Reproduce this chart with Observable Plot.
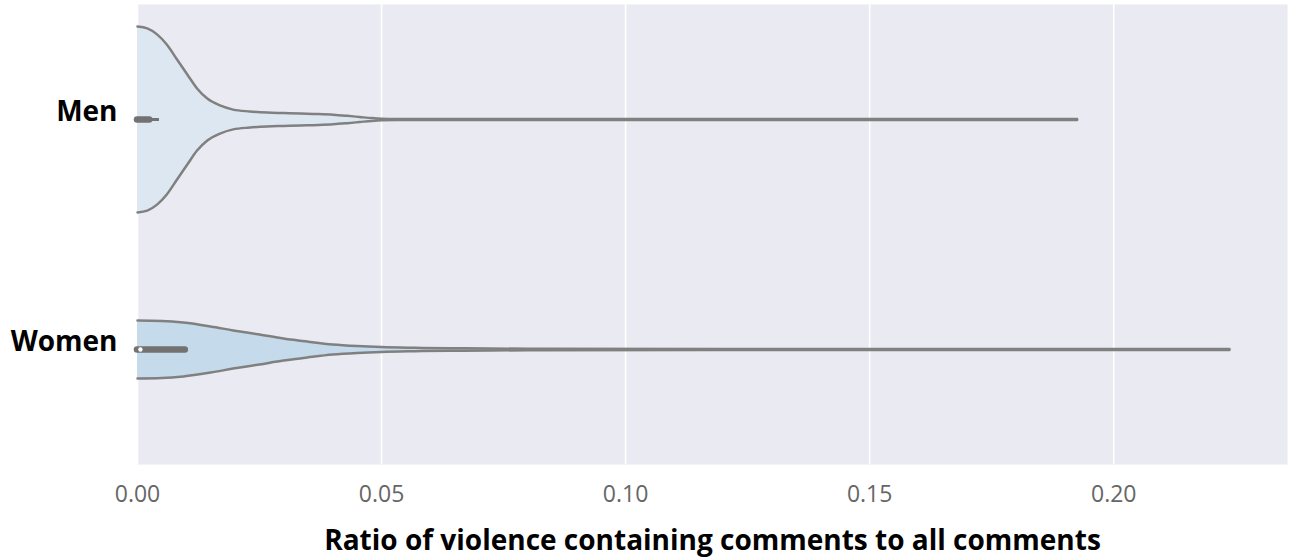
<!DOCTYPE html>
<html>
<head>
<meta charset="utf-8">
<script src="https://cdn.jsdelivr.net/npm/d3@7"></script>
<script src="https://cdn.jsdelivr.net/npm/@observablehq/plot@0.6"></script>
<style>
  html, body { margin: 0; padding: 0; background: #ffffff; }
  #chart { width: 1290px; height: 560px; }
</style>
</head>
<body>
<div id="chart"></div>
<script>
// ---- Data ----
const groups = ["Men", "Women"];
const xTicks = [0, 0.05, 0.10, 0.15, 0.20];
const xLabel = "Ratio of violence containing comments to all comments";

// Violin half-widths (in category units) along the value axis
const menX  = [0, 0.002, 0.004, 0.006, 0.0081, 0.0102, 0.0122, 0.0143, 0.0169, 0.0196, 0.023, 0.0266, 0.030, 0.0334, 0.037, 0.0401, 0.043, 0.0455, 0.048, 0.050, 0.053, 0.10, 0.15, 0.1925];
const menHW = [0.404, 0.396, 0.37, 0.326, 0.261, 0.196, 0.135, 0.091, 0.061, 0.043, 0.035, 0.030, 0.028, 0.026, 0.024, 0.021, 0.016, 0.011, 0.006, 0.0035, 0.0026, 0.0024, 0.0022, 0.002];

const womenX  = [0, 0.005, 0.0094, 0.015, 0.0196, 0.025, 0.0299, 0.035, 0.040, 0.045, 0.050, 0.057, 0.064, 0.072, 0.080, 0.12, 0.17, 0.2237];
const womenHW = [0.126, 0.124, 0.117, 0.100, 0.083, 0.065, 0.048, 0.034, 0.022, 0.015, 0.0105, 0.0075, 0.0055, 0.0042, 0.0034, 0.0027, 0.0023, 0.002];

// Inner box summaries
const iqrLow   = [0, 0];
const iqrHigh  = [0.0025, 0.0098];
const whiskerHigh = [0.0045, 0.0098];
const medians  = [null, 0.0006];

const fills = ["#dde7f2", "#c5daeb"];

// ---- Build tables ----
const violin = [];
[menX, womenX].forEach((xs, i) => {
  const hws = i === 0 ? menHW : womenHW;
  xs.forEach((x, k) => violin.push({g: groups[i], gi: i, x, y1: i - hws[k], y2: i + hws[k]}));
});
const boxes = groups.map((g, i) => ({g, gi: i, lo: iqrLow[i], hi: iqrHigh[i], wh: whiskerHigh[i], med: medians[i]}));

const curve = "monotone-x";

const chart = Plot.plot({
  width: 1290,
  height: 560,
  marginLeft: 137,
  marginRight: 3,
  marginTop: 4,
  marginBottom: 96,
  style: {background: "#ffffff", fontFamily: "'Open Sans', sans-serif"},
  x: {domain: [0, 0.2356]},
  y: {domain: [-0.5, 1.5], reverse: true},
  marks: [
    Plot.frame({fill: "#eaeaf2", stroke: null}),
    Plot.gridX(xTicks, {stroke: "#ffffff", strokeOpacity: 1, strokeWidth: 1.6}),
    Plot.areaY(violin, {x: "x", y1: "y1", y2: "y2", z: "g", fill: (d) => fills[d.gi], curve}),
    Plot.lineY(violin, {x: "x", y: "y1", z: "g", stroke: "#808080", strokeWidth: 2.5, curve}),
    Plot.lineY(violin, {x: "x", y: "y2", z: "g", stroke: "#808080", strokeWidth: 2.5, curve}),
    Plot.ruleY(boxes, {x1: "lo", x2: "wh", y: "gi", stroke: "#727272", strokeWidth: 3}),
    Plot.ruleY(boxes, {x1: "lo", x2: "hi", y: "gi", stroke: "#727272", strokeWidth: 6.5, strokeLinecap: "round"}),
    Plot.dot(boxes.filter(d => d.med != null), {x: "med", y: "gi", r: 2.2, fill: "#ffffff", stroke: null}),
    Plot.axisX(xTicks, {tickSize: 0, tickPadding: 21, fontSize: 23, fill: "#666666", tickFormat: ".2f", label: null}),
    Plot.axisY([0, 1], {tickSize: 0, tickPadding: 20, fontSize: 28, fontWeight: "bold", fill: "#000000", tickFormat: (d) => groups[d], dy: -7, label: null}),
    Plot.text([xLabel], {frameAnchor: "bottom", dy: 85, fontSize: 28, fontWeight: "bold", fill: "#000000", ariaLabel: "xtitle"})
  ]
});
document.getElementById("chart").appendChild(chart);
const t = chart.querySelector('g[aria-label="xtitle"] text');
if (t) { t.setAttribute("textLength", 752); t.setAttribute("lengthAdjust", "spacingAndGlyphs"); }
</script>
</body>
</html>
